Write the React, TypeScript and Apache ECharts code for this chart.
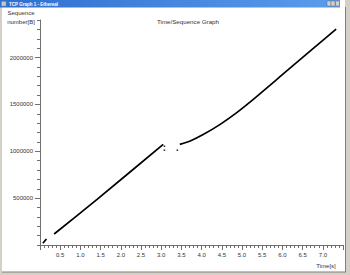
import React, { useEffect, useRef } from "react";
import * as echarts from "echarts";

// Time [s], sequence number [B]
const segmentStart: number[][] = [
  [0.07, 18000],
  [0.16, 64000],
];
const segmentFirst: number[][] = [
  [0.35, 117000],
  [1.42, 489000],
  [3.05, 1074000],
];
const retransDots: number[][] = [
  [3.08, 1053000],
  [3.08, 1011000],
  [3.4, 1011000],
];
const segmentSecond: number[][] = [
  [3.46, 1074000],
  [3.72, 1110000],
  [4.05, 1181000],
  [4.46, 1287000],
  [4.87, 1412000],
  [5.28, 1553000],
  [5.69, 1703000],
  [5.94, 1795000],
  [7.33, 2303000],
];
const yMajorTicks = [500000, 1000000, 1500000, 2000000];

const FONT = "Liberation Sans, Arial, sans-serif";

export default function App() {
  const ref = useRef<HTMLDivElement>(null);
  useEffect(() => {
    document.body.style.margin = "0";
    if (!ref.current) return;
    const chart = echarts.init(ref.current, undefined, { renderer: "svg" });
    const lineSeries = (data: number[][]) => ({
      type: "line",
      data,
      showSymbol: false,
      smooth: 0.2,
      lineStyle: { color: "#000", width: 1.7 },
      xAxisIndex: 0,
      yAxisIndex: 0,
      silent: true,
    });
    chart.setOption({
      animation: false,
      backgroundColor: "#ffffff",
      grid: { left: 40, right: 7, top: 20, bottom: 30, outerBoundsMode: "none" },
      xAxis: {
        type: "value",
        min: 0,
        max: 7.5,
        interval: 0.5,
        axisLine: { lineStyle: { color: "#707070", width: 1 } },
        axisTick: { length: 5, lineStyle: { color: "#707070" } },
        minorTick: { show: true, splitNumber: 5, length: 3, lineStyle: { color: "#707070" } },
        splitLine: { show: false },
        axisLabel: {
          margin: 7,
          fontSize: 6,
          fontFamily: FONT,
          color: "#333",
          formatter: (v: number) => (v === 0 || v > 7.25 ? "" : v.toFixed(1)),
        },
      },
      yAxis: [
        {
          type: "value",
          position: "left",
          min: 0,
          max: 2400000,
          interval: 100000,
          axisLine: { show: true, lineStyle: { color: "#707070", width: 1 } },
          axisTick: { show: true, length: 3, lineStyle: { color: "#707070" } },
          splitLine: { show: false },
          axisLabel: {
            margin: 7,
            fontSize: 6,
            fontFamily: FONT,
            color: "#333",
            formatter: (v: number) => (v > 0 && v % 500000 === 0 ? String(v) : ""),
          },
        },
        {
          type: "value",
          position: "left",
          min: 0,
          max: 2400000,
          axisLine: { show: false },
          axisTick: { show: true, length: 5, customValues: yMajorTicks, lineStyle: { color: "#707070" } },
          splitLine: { show: false },
          axisLabel: { show: false },
        },
      ],
      series: [
        lineSeries(segmentStart),
        lineSeries(segmentFirst),
        lineSeries(segmentSecond),
        {
          type: "scatter",
          data: retransDots,
          symbol: "rect",
          symbolSize: 1.6,
          itemStyle: { color: "#000" },
          silent: true,
        },
      ],
      graphic: [
        // window frame
        { type: "rect", shape: { x: 0, y: 0, width: 2, height: 275 }, style: { fill: "#d4d0c8" }, silent: true },
        { type: "rect", shape: { x: 345, y: 0, width: 5, height: 275 }, style: { fill: "#d4d0c8" }, silent: true },
        { type: "rect", shape: { x: 345, y: 7, width: 1, height: 266 }, style: { fill: "#808080" }, silent: true },
        { type: "rect", shape: { x: 0, y: 272, width: 350, height: 3 }, style: { fill: "#d4d0c8" }, silent: true },
        { type: "rect", shape: { x: 2, y: 271.5, width: 344, height: 1 }, style: { fill: "#808080" }, silent: true },
        // title bar
        {
          type: "rect",
          shape: { x: 0, y: 0, width: 340, height: 7.5 },
          style: {
            fill: new echarts.graphic.LinearGradient(0, 0, 1, 0, [
              { offset: 0, color: "#2f6fd0" },
              { offset: 1, color: "#5b9cec" },
            ]),
          },
          silent: true,
        },
        { type: "rect", shape: { x: 1.5, y: 1.5, width: 4.5, height: 4.5 }, style: { fill: "#c8c8c8", stroke: "#888", lineWidth: 0.5 }, silent: true },
        {
          type: "text",
          x: 9,
          y: 4,
          style: { text: "TCP Graph 1 - Ethereal", fill: "#fff", fontSize: 4.5, fontWeight: "bold", fontFamily: FONT, verticalAlign: "middle" },
          silent: true,
        },
        { type: "rect", shape: { x: 327, y: 1, width: 4, height: 5 }, style: { fill: "#d4d0c8", stroke: "#555", lineWidth: 0.4 }, silent: true },
        { type: "rect", shape: { x: 331, y: 1, width: 4, height: 5 }, style: { fill: "#d4d0c8", stroke: "#555", lineWidth: 0.4 }, silent: true },
        { type: "rect", shape: { x: 335.5, y: 1, width: 4, height: 5 }, style: { fill: "#d4d0c8", stroke: "#555", lineWidth: 0.4 }, silent: true },
        // chart texts
        {
          type: "text",
          x: 188,
          y: 21,
          style: { text: "Time/Sequence Graph", fill: "#333", fontSize: 6.2, fontFamily: FONT, align: "center", verticalAlign: "middle" },
          silent: true,
        },
        {
          type: "text",
          x: 21,
          y: 13,
          style: { text: "Sequence", fill: "#333", fontSize: 6, fontFamily: FONT, align: "center", verticalAlign: "middle" },
          silent: true,
        },
        {
          type: "text",
          x: 21,
          y: 22,
          style: { text: "number[B]", fill: "#333", fontSize: 6, fontFamily: FONT, align: "center", verticalAlign: "middle" },
          silent: true,
        },
        {
          type: "text",
          x: 326,
          y: 266,
          style: { text: "Time[s]", fill: "#333", fontSize: 6, fontFamily: FONT, align: "center", verticalAlign: "middle" },
          silent: true,
        },
      ],
    });
    return () => chart.dispose();
  }, []);
  return <div ref={ref} style={{ width: 350, height: 275, position: "fixed", left: 0, top: 0 }} />;
}
